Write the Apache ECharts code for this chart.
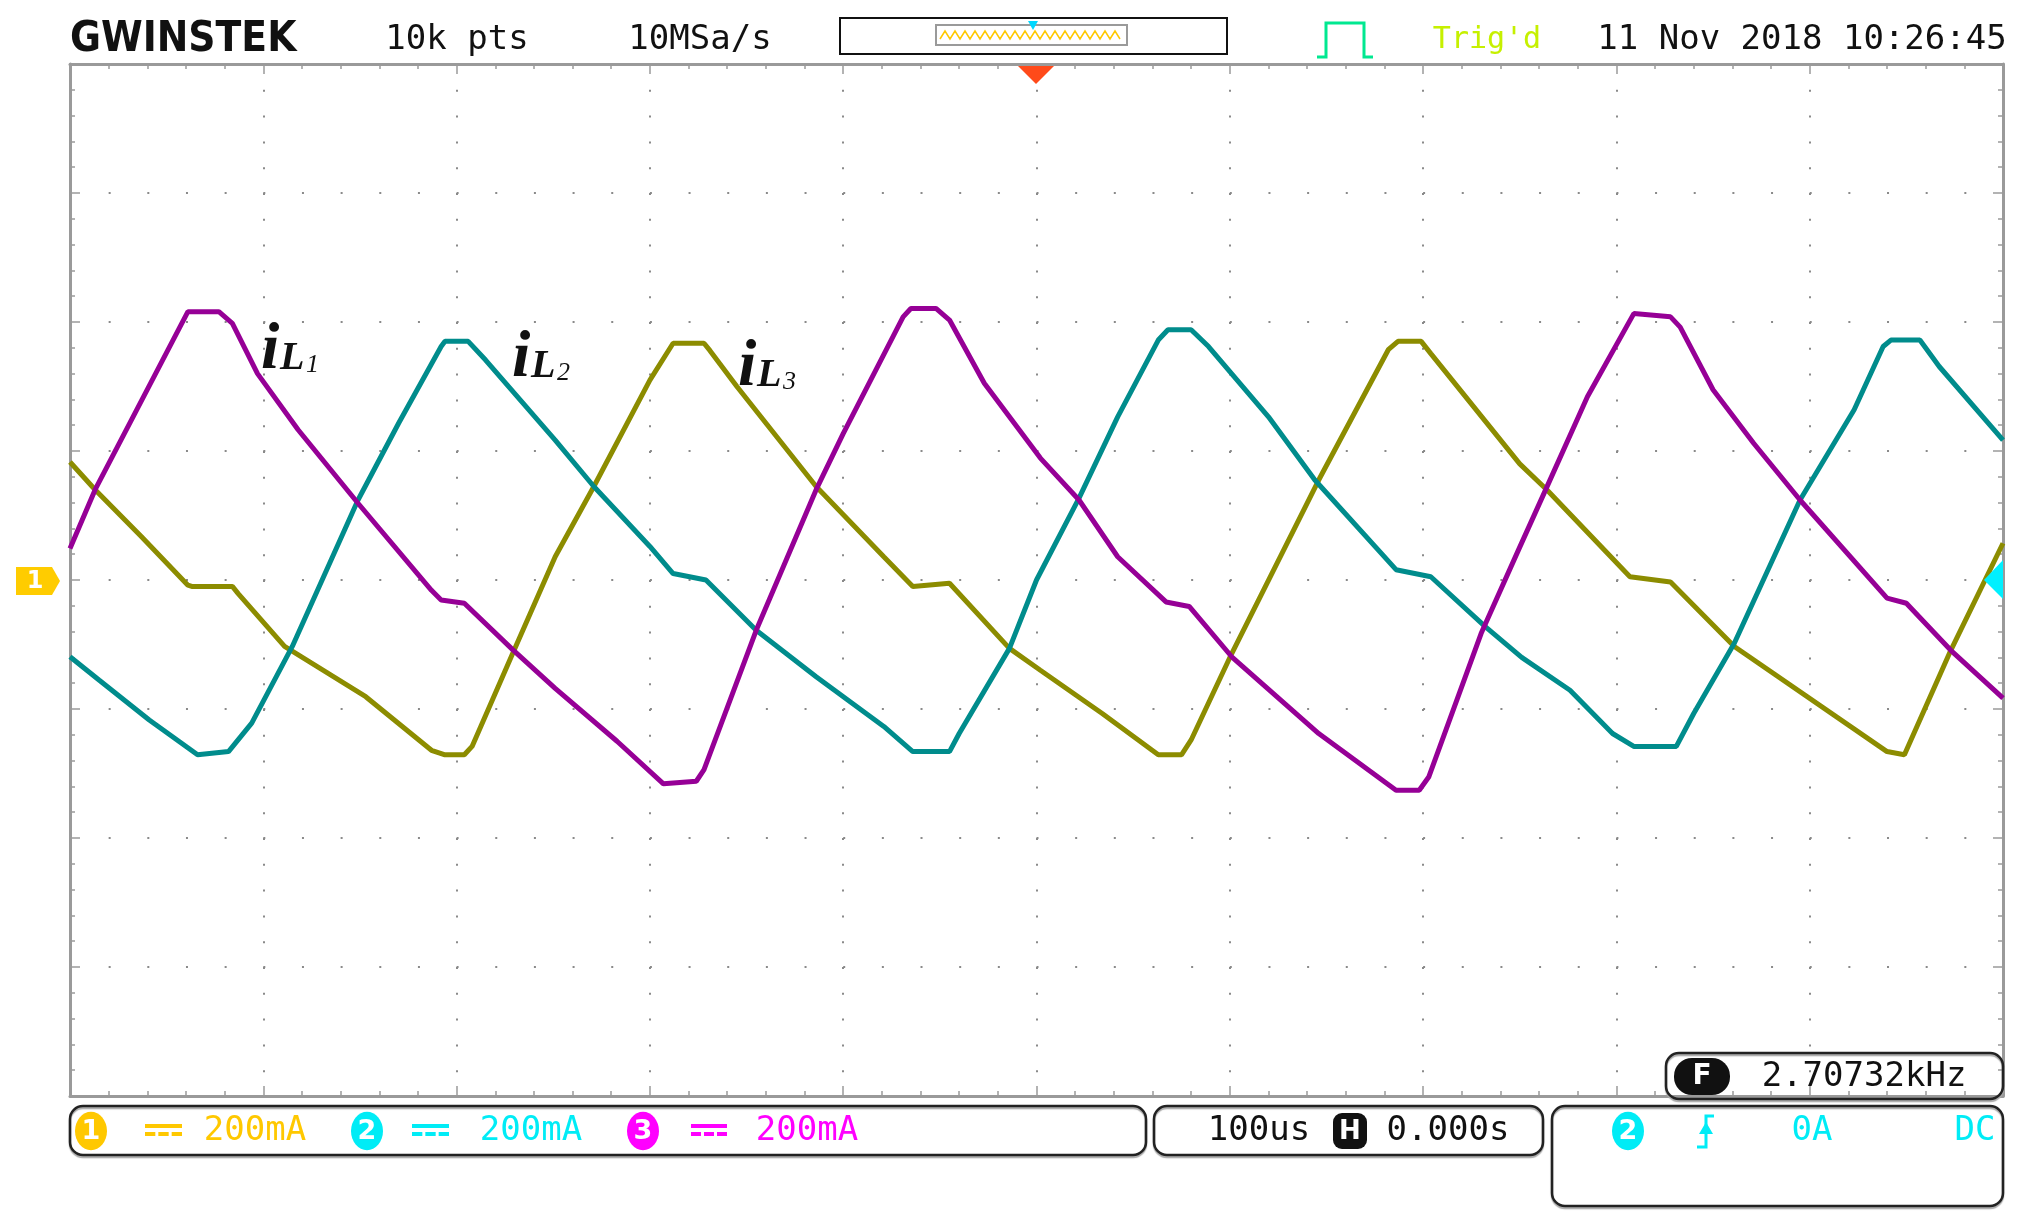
<!DOCTYPE html>
<html>
<head>
<meta charset="utf-8">
<script src="https://cdn.jsdelivr.net/npm/echarts/dist/echarts.min.js"></script>
<style>
html, body { margin: 0; padding: 0; background: #fff; }
#main { width: 2033px; height: 1230px; }
</style>
</head>
<body>
<div id="main"></div>
<script>
// time in us (100 us/div), current in mA (200 mA/div)
const iL1Time = [0, 13, 61, 77, 84, 97, 118, 149, 187, 192, 204, 229, 251, 283, 307, 324, 328, 355, 386, 400,
  431, 435, 448, 455, 473, 502, 522, 542, 567, 579, 601, 646, 686, 698, 703, 730, 750, 764, 785, 809,
  828, 833, 850, 871, 895, 940, 950, 973, 1000];
const iL1Current = [49, 140, 416, 416, 398, 320, 233, 119, -16, -31, -36, -108, -168, -250, -316, -312, -294, -78, 140, 227,
  408, 421, 421, 403, 305, 189, 124, 36, -34, -41, -119, -238, -326, -326, -305, -83, 51, 144, 284, 413,
  408, 392, 295, 212, 124, -28, -36, -109, -183];

const iL2Time = [0, 15, 41, 66, 82, 94, 115, 149, 170, 192, 194, 206, 215, 251, 271, 300, 312, 329, 355, 386,
  421, 436, 455, 460, 486, 500, 522, 542, 563, 568, 580, 589, 620, 644, 686, 704, 732, 751, 776, 798,
  809, 831, 840, 861, 895, 923, 938, 942, 957, 967, 1000];
const iL2Current = [-119, -155, -217, -271, -266, -222, -103, 124, 243, 362, 370, 370, 341, 217, 145, 52, 10, 0, -78, -150,
  -227, -266, -266, -238, -106, 0, 127, 253, 372, 388, 388, 362, 253, 155, 16, 5, -72, -120, -171, -238,
  -258, -258, -207, -98, 124, 264, 362, 372, 372, 331, 217];

const iL3Time = [0, 13, 37, 61, 63, 84, 87, 111, 153, 187, 194, 204, 208, 229, 251, 271, 300, 312, 328, 331,
  345, 386, 421, 436, 455, 486, 502, 534, 563, 575, 580, 601, 646, 682, 687, 699, 704, 750, 764, 807,
  828, 861, 940, 949, 973, 1000];
const iL3Current = [183, 140, 67, -8, -10, -10, -21, -103, -181, -264, -271, -271, -258, -114, 36, 145, 310, 367, 367, 356,
  300, 145, 36, -10, -5, -106, -140, -207, -271, -271, -248, -114, 155, 357, 370, 370, 351, 180, 140, 5,
  -3, -103, -266, -271, -109, 57];

const channelScale = ['200mA', '200mA', '200mA'];
const timeBase = '100us';
const hPosition = '0.000s';
const frequency = '2.70732kHz';

const zip = (t, v) => t.map((x, i) => [x, v[i]]);

const mono = '"DejaVu Sans Mono", monospace';
const gold = '#ffc800', cyan = '#00ecf6', pink = '#ff00ff';
const graphics = [];

function addText(text, x, y, font, fill, align) {
  graphics.push({ type: 'text', z: 100, silent: true,
    style: { text: text, x: x, y: y, font: font, fill: fill, textAlign: align || 'center', textVerticalAlign: 'middle' } });
}
function badge(cx, cy, fill, label) {
  graphics.push({ type: 'circle', z: 100, x: cx, y: cy, scaleY: 1.2, shape: { cx: 0, cy: 0, r: 16 }, style: { fill: fill } });
  addText(label, cx, cy + 1, 'bold 27px "DejaVu Sans"', '#fff');
}
function box(x, y, w, h) {
  graphics.push({ type: 'rect', z: 90, shape: { x: x, y: y, width: w, height: h, r: 13 },
    style: { fill: 'rgba(0,0,0,0)', stroke: '#222', lineWidth: 2.5, shadowColor: '#aaa', shadowOffsetY: 2, shadowBlur: 1 } });
}
function dcSymbol(x0, x1, color) {
  const w = x1 - x0;
  graphics.push({ type: 'rect', z: 100, shape: { x: x0, y: 1124, width: w, height: 4 }, style: { fill: color } });
  const seg = (w - 6) / 3;
  for (let k = 0; k < 3; k++) {
    graphics.push({ type: 'rect', z: 100, shape: { x: x0 + k * (seg + 3), y: 1132, width: seg, height: 4 }, style: { fill: color } });
  }
}

// header
addText('GWINSTEK', 70, 40, 'bold 42px "DejaVu Sans Condensed", "DejaVu Sans"', '#111', 'left');
addText('10k pts', 457, 40, '34px ' + mono, '#111');
addText('10MSa/s', 700, 40, '34px ' + mono, '#111');
graphics.push({ type: 'rect', z: 90, shape: { x: 840, y: 18, width: 387, height: 36 }, style: { fill: '#fff', stroke: '#111', lineWidth: 2 } });
graphics.push({ type: 'rect', z: 91, shape: { x: 936, y: 25, width: 191, height: 20 }, style: { fill: '#fff', stroke: '#9a9a9a', lineWidth: 2 } });
const wave = [];
for (let x = 940, k = 0; x <= 1123; x += 5, k++) wave.push([x, k % 2 ? 31 : 39]);
graphics.push({ type: 'polyline', z: 92, shape: { points: wave }, style: { stroke: gold, lineWidth: 1.5, fill: null } });
graphics.push({ type: 'polygon', z: 93, shape: { points: [[1028, 21], [1038, 21], [1033, 30]] }, style: { fill: '#00d8ff' } });
graphics.push({ type: 'polygon', z: 93, shape: { points: [[1018, 66], [1054, 66], [1036, 84]] }, style: { fill: '#ff4a1a' } });
graphics.push({ type: 'polyline', z: 93, shape: { points: [[1317, 57], [1326, 57], [1326, 23], [1364, 23], [1364, 57], [1373, 57]] },
  style: { stroke: '#00e890', lineWidth: 3, fill: null } });
addText("Trig'd", 1487, 40, '30px ' + mono, '#c6f000');
addText('11 Nov 2018 10:26:45', 1802, 40, '34px ' + mono, '#111');

// channel box
box(70, 1106, 1076, 49);
badge(91, 1131, gold, '1');
dcSymbol(145, 182, gold);
addText(channelScale[0], 255, 1131, '34px ' + mono, gold);
badge(367, 1131, cyan, '2');
dcSymbol(412, 449, cyan);
addText(channelScale[1], 531, 1131, '34px ' + mono, cyan);
badge(643, 1131, pink, '3');
dcSymbol(691, 727, pink);
addText(channelScale[2], 807, 1131, '34px ' + mono, pink);

// timebase box
box(1154, 1106, 389, 49);
addText(timeBase, 1259, 1131, '34px ' + mono, '#111');
graphics.push({ type: 'rect', z: 100, shape: { x: 1333, y: 1113, width: 34, height: 36, r: 9 }, style: { fill: '#111' } });
addText('H', 1350, 1132, 'bold 26px "DejaVu Sans"', '#fff');
addText(hPosition, 1448, 1131, '34px ' + mono, '#111');

// trigger box
box(1552, 1106, 451, 100);
badge(1628, 1131, cyan, '2');
graphics.push({ type: 'polyline', z: 100, shape: { points: [[1697, 1147], [1706, 1147], [1706, 1116], [1714, 1116]] },
  style: { stroke: cyan, lineWidth: 3, fill: null } });
graphics.push({ type: 'polygon', z: 100, shape: { points: [[1699, 1134], [1713, 1134], [1706, 1122]] }, style: { fill: cyan } });
addText('0A', 1812, 1131, '34px ' + mono, cyan);
addText('DC', 1975, 1131, '34px ' + mono, cyan);

// frequency box
box(1666, 1053, 337, 46);
graphics.push({ type: 'rect', z: 100, shape: { x: 1674, y: 1058, width: 56, height: 37, r: 18 }, style: { fill: '#111' } });
addText('F', 1702, 1077, 'bold 28px "DejaVu Sans"', '#fff');
addText(frequency, 1864, 1077, '34px ' + mono, '#111');

// ground / trigger markers
graphics.push({ type: 'polygon', z: 100, shape: { points: [[16, 567], [52, 567], [60, 581], [52, 595], [16, 595]] }, style: { fill: '#ffcc00' } });
addText('1', 35, 582, 'bold 24px "DejaVu Sans"', '#fff');
graphics.push({ type: 'polygon', z: 100, shape: { points: [[2003, 560], [1984, 580], [2003, 599]] }, style: { fill: '#00f0ff' } });

// trace labels
function traceLabel(x, base, digit) {
  graphics.push({ type: 'text', z: 100, style: { text: 'i', x: x, y: base, font: 'italic bold 66px "Liberation Serif"', fill: '#111', textAlign: 'left', textVerticalAlign: 'bottom' } });
  graphics.push({ type: 'text', z: 100, style: { text: 'L', x: x + 19, y: base - 5, font: 'italic bold 40px "Liberation Serif"', fill: '#111', textAlign: 'left', textVerticalAlign: 'bottom' } });
  graphics.push({ type: 'text', z: 100, style: { text: digit, x: x + 45, y: base - 6, font: 'italic 26px "Liberation Serif"', fill: '#111', textAlign: 'left', textVerticalAlign: 'bottom' } });
}
traceLabel(261, 384, '1');
traceLabel(512, 392, '2');
traceLabel(738, 401, '3');

const borderColor = '#9a9a9a';
function frameAxis(position, withSplit, dotDash) {
  const horizontal = position === 'top' || position === 'bottom';
  return {
    type: 'value', min: horizontal ? 0 : -800, max: horizontal ? 1000 : 800, interval: horizontal ? 100 : 200,
    position: position,
    axisLine: { show: true, onZero: false, lineStyle: { color: borderColor, width: 3 } },
    axisTick: { show: true, inside: true, length: 10, lineStyle: { color: borderColor, width: 1.5 } },
    minorTick: { show: true, splitNumber: 5, length: 5, lineStyle: { color: borderColor, width: 1.5 } },
    axisLabel: { show: false },
    splitLine: { show: withSplit, lineStyle: { color: '#8a8a8a', width: 2, type: dotDash } }
  };
}

const chart = echarts.init(document.getElementById('main'));
chart.setOption({
  animation: false,
  backgroundColor: '#fff',
  grid: { left: 70, right: 30, top: 64, bottom: 134 },
  xAxis: [frameAxis('bottom', true, [2, 23.8]), frameAxis('top', false)],
  yAxis: [frameAxis('left', true, [2, 36.66]), frameAxis('right', false)],
  series: [
    { name: 'iL3', type: 'line', data: zip(iL3Time, iL3Current), symbol: 'none', silent: true,
      lineStyle: { color: '#8c8c00', width: 5 } },
    { name: 'iL2', type: 'line', data: zip(iL2Time, iL2Current), symbol: 'none', silent: true,
      lineStyle: { color: '#008c8c', width: 5 } },
    { name: 'iL1', type: 'line', data: zip(iL1Time, iL1Current), symbol: 'none', silent: true,
      lineStyle: { color: '#960096', width: 5 } }
  ],
  graphic: graphics
});
</script>
</body>
</html>
